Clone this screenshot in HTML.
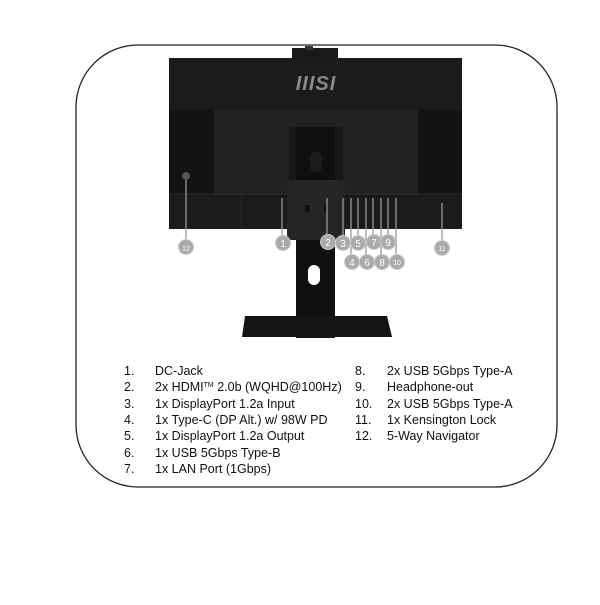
<!DOCTYPE html>
<html><head><style>
html,body{margin:0;padding:0;background:#fff;}
.t{font-family:"Liberation Sans",sans-serif;font-size:12.5px;fill:#111;}
.c{font-family:"Liberation Sans",sans-serif;font-size:10px;fill:#fff;text-anchor:middle;}
</style></head><body>
<svg width="600" height="600" viewBox="0 0 600 600" xmlns="http://www.w3.org/2000/svg">
<rect x="76" y="45" width="481" height="442" rx="62" ry="62" fill="#fff" stroke="#222" stroke-width="1.3"/>
<!-- webcam -->
<rect x="292" y="48" width="46" height="11" fill="#1a1a1a"/>
<rect x="305" y="46" width="8" height="4" fill="#333"/>
<!-- monitor -->
<rect x="169" y="58" width="293" height="171" fill="#1b1b1b"/>
<rect x="214" y="110" width="204" height="85" fill="#222"/>
<rect x="169" y="110" width="45" height="85" fill="#131313"/>
<rect x="418" y="110" width="44" height="85" fill="#131313"/>
<line x1="169" y1="194" x2="462" y2="194" stroke="#2c2c2c" stroke-width="1"/>
<line x1="241" y1="195" x2="241" y2="229" stroke="#262626"/>
<text x="316" y="90" font-family="Liberation Sans,sans-serif" font-weight="bold" font-style="italic" font-size="20" fill="#8a8a8a" text-anchor="middle" letter-spacing="1">IIISI</text>
<!-- mount plate & neck -->
<rect x="289" y="127" width="54" height="60" fill="#181818"/>
<rect x="296" y="127" width="39" height="211" fill="#0f0f0f"/>
<rect x="310" y="152" width="12" height="20" rx="5" fill="#1c1c1c"/>
<rect x="308" y="265" width="12" height="20" rx="6" fill="#fff"/>
<rect x="287" y="180" width="58" height="60" fill="#262626"/>
<rect x="305" y="205" width="5" height="7" fill="#111"/>
<rect x="324" y="205" width="3" height="7" fill="#111"/>
<!-- base -->
<polygon points="245,316 387,316 392,337 242,337" fill="#151515"/>
<!-- port lines -->
<g stroke="#999" stroke-width="1.3">
<line x1="186" y1="180" x2="186" y2="240"/>
<line x1="282" y1="198" x2="282" y2="237"/>
<line x1="327" y1="198" x2="327" y2="235"/>
<line x1="343" y1="198" x2="343" y2="236"/>
<line x1="351" y1="198" x2="351" y2="255"/>
<line x1="358" y1="198" x2="358" y2="236"/>
<line x1="366" y1="198" x2="366" y2="255"/>
<line x1="373" y1="198" x2="373" y2="236"/>
<line x1="381" y1="198" x2="381" y2="255"/>
<line x1="388" y1="198" x2="388" y2="236"/>
<line x1="396" y1="198" x2="396" y2="255"/>
<line x1="442" y1="203" x2="442" y2="241"/>
</g>
<circle cx="186" cy="176" r="4" fill="#555"/>
<g fill="#aaa" stroke="#ccc" stroke-width="1">
<circle cx="186" cy="247" r="7.5"/><circle cx="283" cy="243" r="7.5"/><circle cx="328" cy="242" r="7.5"/>
<circle cx="343" cy="243" r="7.5"/><circle cx="358" cy="243" r="7.5"/><circle cx="374" cy="242" r="7.5"/>
<circle cx="388" cy="242" r="7.5"/><circle cx="352" cy="262" r="7.5"/><circle cx="367" cy="262" r="7.5"/>
<circle cx="382" cy="262" r="7.5"/><circle cx="397" cy="262" r="7.5"/><circle cx="442" cy="248" r="7.5"/>
</g>
<g class="c">
<text x="186" y="251" font-size="7">12</text><text x="283" y="247">1</text><text x="328" y="246">2</text>
<text x="343" y="247">3</text><text x="358" y="247">5</text><text x="374" y="246">7</text>
<text x="388" y="246">9</text><text x="352" y="266">4</text><text x="367" y="266">6</text>
<text x="382" y="266">8</text><text x="397" y="265" font-size="7">10</text><text x="442" y="251" font-size="7">11</text>
</g>
<!-- legend -->
<g class="t">
<text x="124" y="375">1.</text><text x="155" y="375">DC-Jack</text>
<text x="124" y="391">2.</text><text x="155" y="391">2x HDMI<tspan font-size="7" dy="-4">TM</tspan><tspan dy="4"> 2.0b (WQHD@100Hz)</tspan></text>
<text x="124" y="408">3.</text><text x="155" y="408">1x DisplayPort 1.2a Input</text>
<text x="124" y="424">4.</text><text x="155" y="424">1x Type-C (DP Alt.) w/ 98W PD</text>
<text x="124" y="440">5.</text><text x="155" y="440">1x DisplayPort 1.2a Output</text>
<text x="124" y="457">6.</text><text x="155" y="457">1x USB 5Gbps Type-B</text>
<text x="124" y="473">7.</text><text x="155" y="473">1x LAN Port (1Gbps)</text>
<text x="355" y="375">8.</text><text x="387" y="375">2x USB 5Gbps Type-A</text>
<text x="355" y="391">9.</text><text x="387" y="391">Headphone-out</text>
<text x="355" y="408">10.</text><text x="387" y="408">2x USB 5Gbps Type-A</text>
<text x="355" y="424">11.</text><text x="387" y="424">1x Kensington Lock</text>
<text x="355" y="440">12.</text><text x="387" y="440">5-Way Navigator</text>
</g>
</svg>
</body></html>
